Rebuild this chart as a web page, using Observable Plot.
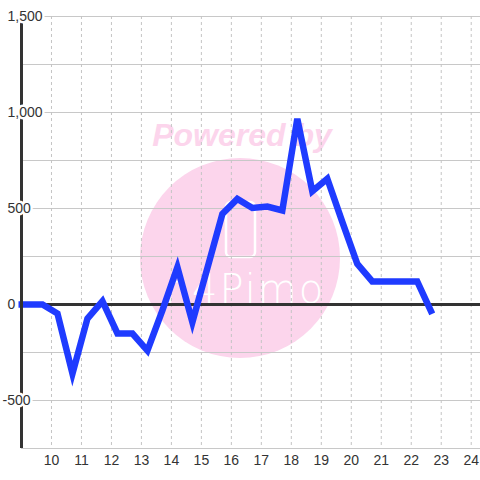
<!DOCTYPE html>
<html>
<head>
<meta charset="utf-8">
<script src="https://cdn.jsdelivr.net/npm/d3@7"></script>
<script src="https://cdn.jsdelivr.net/npm/@observablehq/plot@0.6"></script>
<style>
  html, body { margin: 0; padding: 0; background: #ffffff; }
  #wrap { position: relative; width: 480px; height: 480px; }
  #wm, #chart { position: absolute; left: 0; top: 0; }
</style>
</head>
<body>
<div id="wrap">
  <svg id="wm" width="480" height="480" xmlns="http://www.w3.org/2000/svg">
    <circle cx="240" cy="258" r="100" fill="#fcd5ec"></circle>
    <text x="242" y="146" text-anchor="middle" font-family="Liberation Sans, Arial, sans-serif" font-weight="bold" font-style="italic" font-size="32" fill="#fcd5ec">Powered by</text>
    <rect x="226" y="202" width="29" height="55" rx="5" ry="5" fill="none" stroke="#ffffff" stroke-width="2.5"></rect>
    <text x="245" y="303" text-anchor="middle" font-family="DejaVu Sans, sans-serif" font-weight="200" font-size="40" letter-spacing="2" fill="#ffffff">n4Pimo</text>
  </svg>
  <div id="chart"></div>
</div>
<script>
const xs = [8.9, 9.7, 10.2, 10.7, 11.2, 11.7, 12.2, 12.7, 13.2, 13.7, 14.2, 14.7, 15.2, 15.7, 16.2, 16.7, 17.2, 17.7, 18.2, 18.7, 19.2, 19.7, 20.2, 20.7, 21.2, 21.7, 22.2, 22.7];
const values = [0, 0, -47, -360, -73, 17, -151, -151, -240, -30, 194, -92, 190, 472, 550, 503, 510, 490, 967, 590, 655, 430, 212, 120, 120, 120, 120, -49];
const xTicks = [10, 11, 12, 13, 14, 15, 16, 17, 18, 19, 20, 21, 22, 23, 24];
const yLabelTicks = [-500, 0, 500, 1000, 1500];
const yGridTicks = [-750, -500, -250, 0, 250, 500, 750, 1000, 1250, 1500];

const data = xs.map((x, i) => ({x, v: values[i]}));
const fmt = d3.format(",");

const plot = Plot.plot({
  width: 480,
  height: 480,
  marginLeft: 21,
  marginRight: 0,
  marginTop: 16,
  marginBottom: 32,
  style: {background: "transparent", fontFamily: "Liberation Sans, Arial, sans-serif", fontSize: "14px", color: "#333"},
  x: {domain: [9, 24.31], axis: null, label: null},
  y: {domain: [-750, 1500], axis: null, label: null},
  marks: [
    Plot.ruleY(yGridTicks, {stroke: "#c8c8c8", strokeWidth: 1}),
    Plot.ruleX(xTicks, {stroke: "#c4c4c4", strokeWidth: 1, strokeDasharray: "3,3"}),
    Plot.ruleY([0], {stroke: "#333333", strokeWidth: 3}),
    Plot.line(data, {x: "x", y: "v", stroke: "#1f3bff", strokeWidth: 6.5, strokeLinejoin: "miter", strokeLinecap: "butt", strokeMiterlimit: 4}),
    Plot.ruleX([9], {stroke: "#333333", strokeWidth: 3}),
    Plot.text(xTicks, {x: d => d, text: d => String(d), frameAnchor: "bottom", lineAnchor: "top", dy: 7, fill: "#333", fontSize: 14}),
    Plot.text(yLabelTicks.filter(d => d >= 0), {y: d => d, text: d => fmt(d), frameAnchor: "left", textAnchor: "start", dx: -14, lineAnchor: "middle", fill: "#333", fontSize: 14, stroke: "white", strokeWidth: 5, paintOrder: "stroke"}),
    Plot.text(yLabelTicks.filter(d => d < 0), {y: d => d, text: d => String(d), frameAnchor: "left", textAnchor: "start", dx: -19, lineAnchor: "middle", fill: "#333", fontSize: 14, stroke: "white", strokeWidth: 5, paintOrder: "stroke"})
  ]
});
document.getElementById("chart").appendChild(plot);
</script>
</body>
</html>
